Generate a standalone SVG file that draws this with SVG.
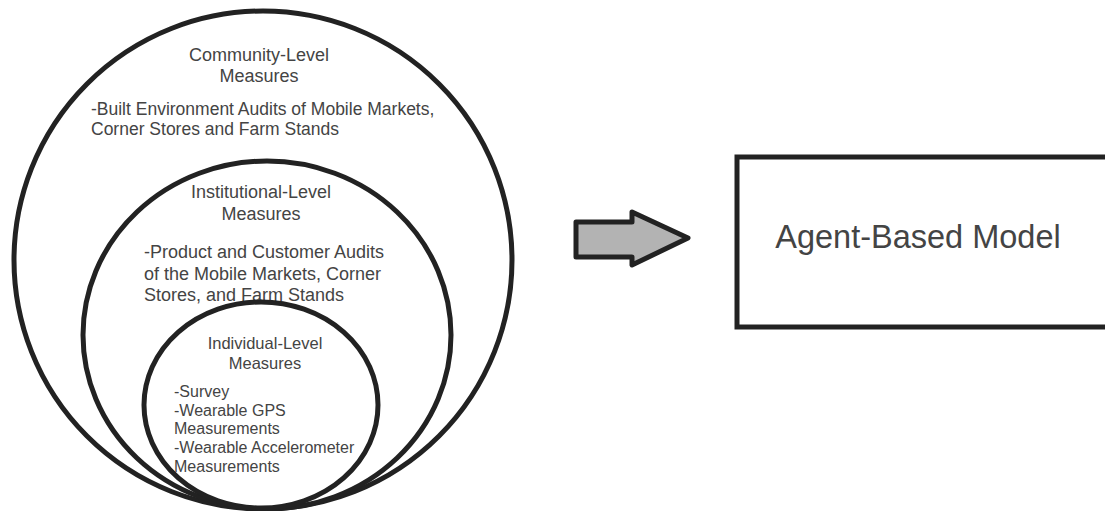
<svg xmlns="http://www.w3.org/2000/svg" width="1105" height="511" viewBox="0 0 1105 511">
<style>
.ring{fill:none;stroke:#222;stroke-width:5}
.t{font-family:"Liberation Sans",Arial,sans-serif;fill:#444}
.c{text-anchor:middle}
</style>
<rect width="1105" height="511" fill="#fff"/>
<g id="community">
<circle class="ring" cx="263" cy="260" r="249"/>
<text class="t c" x="259" y="61" font-size="18">Community-Level</text>
<text class="t c" x="259" y="82" font-size="18">Measures</text>
<text class="t" x="91" y="115" font-size="17.5">-Built Environment Audits of Mobile Markets,</text>
<text class="t" x="91" y="135" font-size="17.5">Corner Stores and Farm Stands</text>
</g>
<g id="institutional">
<ellipse class="ring" cx="267" cy="335" rx="184" ry="174"/>
<text class="t c" x="261" y="198" font-size="18">Institutional-Level</text>
<text class="t c" x="261" y="220" font-size="18">Measures</text>
<text class="t" x="144" y="258" font-size="18">-Product and Customer Audits</text>
<text class="t" x="144" y="280" font-size="18">of the Mobile Markets, Corner</text>
<text class="t" x="144" y="301" font-size="18">Stores, and Farm Stands</text>
</g>
<g id="individual">
<ellipse class="ring" cx="261" cy="405" rx="117" ry="103"/>
<text class="t c" x="265" y="349" font-size="16.5">Individual-Level</text>
<text class="t c" x="265" y="369" font-size="16.5">Measures</text>
<text class="t" x="174" y="397" font-size="16">-Survey</text>
<text class="t" x="174" y="416" font-size="16">-Wearable GPS</text>
<text class="t" x="174" y="434" font-size="16">Measurements</text>
<text class="t" x="174" y="453" font-size="16">-Wearable Accelerometer</text>
<text class="t" x="174" y="472" font-size="16">Measurements</text>
</g>
<g id="connectors">
<path d="M576 222 H632 V212 L688 238 L632 265 V257 H576 Z" fill="#b3b3b3" stroke="#222" stroke-width="5" stroke-linejoin="round"/>
</g>
<g id="abm">
<rect x="737" y="157" width="380" height="170" fill="#fff" stroke="#222" stroke-width="5"/>
<text class="t c" x="918" y="248" font-size="32.5" fill="#333">Agent-Based Model</text>
</g>
</svg>
